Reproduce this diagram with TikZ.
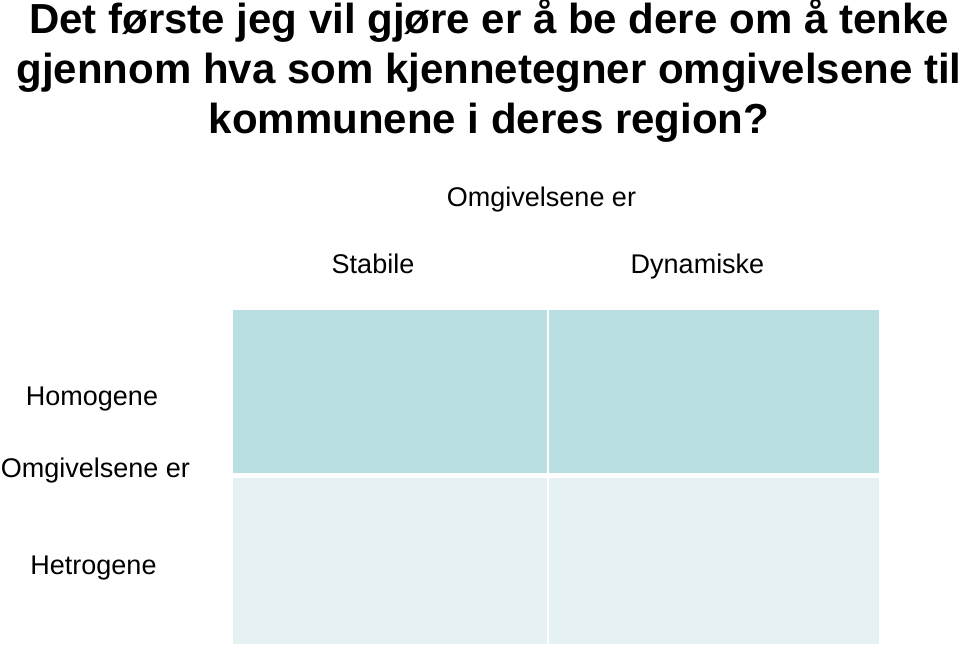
\documentclass[tikz,border=0pt]{standalone}
\usepackage{fontspec}
\setmainfont{Liberation Sans}
\usetikzlibrary{positioning}
\definecolor{celldark}{RGB}{185,223,226}
\definecolor{celllight}{RGB}{230,241,243}
\tikzset{
  title/.style={font=\fontsize{42}{50}\selectfont\bfseries, align=center, inner sep=0pt},
  lbl/.style={font=\fontsize{27}{32}\selectfont, inner sep=0pt, anchor=base},
  cell/.style={rectangle, inner sep=0pt, anchor=north west},
}

\begin{document}
\begin{tikzpicture}[x=1pt, y=-1pt]
  \useasboundingbox (0,0) rectangle (960,649);
  % question (base = last line)
  \node[title, anchor=base] (question) at (489,133)
    {Det første jeg vil gjøre er å be dere om å tenke\\
     gjennom hva som kjennetegner omgivelsene til\\
     kommunene i deres region?};
  % column heads
  \node[lbl] (colhead) at (541.5,206) {Omgivelsene er};
  \node[lbl] (stabile) at (373,273) {Stabile};
  \node[lbl] (dynamisk) at (697.5,273) {Dynamiske};
  % row heads
  \node[lbl] (homogen) at (92,405) {Homogene};
  \node[lbl] (rowhead) at (95.5,477) {Omgivelsene er};
  \node[lbl] (hetrogen) at (93.5,574) {Hetrogene};
  % 2x2 matrix
  \node[cell, fill=celldark, minimum width=314pt, minimum height=163pt] (c11) at (233,310) {};
  \node[cell, fill=celldark, minimum width=330pt, minimum height=163pt] (c12) at (549,310) {};
  \node[cell, fill=celllight, minimum width=314pt, minimum height=166pt] (c21) at (233,478) {};
  \node[cell, fill=celllight, minimum width=330pt, minimum height=166pt] (c22) at (549,478) {};
\end{tikzpicture}
\end{document}
